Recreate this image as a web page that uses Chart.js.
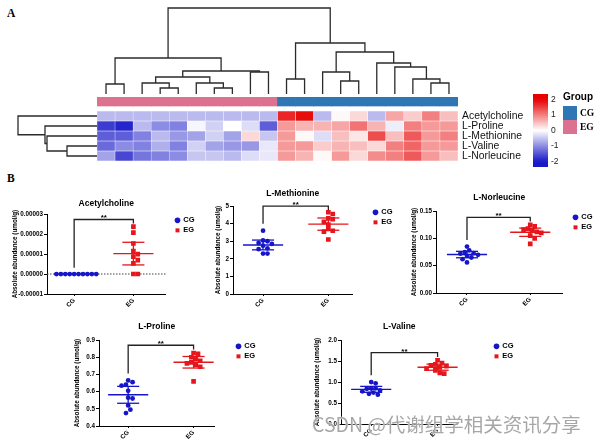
<!DOCTYPE html>
<html>
<head>
<meta charset="utf-8">
<title>Heatmap and metabolite abundance</title>
<script src="https://cdn.jsdelivr.net/npm/chart.js@4.4.1/dist/chart.umd.min.js"></script>
<style>
  html, body { margin:0; padding:0; background:#fff; }
  #root { position:relative; width:600px; height:444px; overflow:hidden; background:#fff; }
  #root canvas { position:absolute; }
  .txt { position:absolute; white-space:nowrap; color:#000; }
</style>
</head>
<body>
<div id="root"></div>
<script>
// ================= DATA =================
// ---- Panel A : heatmap (z-scores) ----
const sampleGroups = ['EG','EG','EG','EG','EG','EG','EG','EG','EG','EG',
                      'CG','CG','CG','CG','CG','CG','CG','CG','CG','CG'];
const heatRowLabels = ['Acetylcholine','L-Proline','L-Methionine','L-Valine','L-Norleucine'];
const heatAcetylcholine = [-0.6,-0.6,-0.6,-0.6,-0.6,-0.6,-0.6,-0.6,-0.6,-0.6, 1.7,1.9,-0.6,0.05,0.3,-0.6,0.7,0.4,1.0,0.5];
const heatProline       = [-1.7,-1.9,-0.6,-1.0,-1.1,-0.08,-0.4,0.0,-0.3,-1.4, 0.8,0.6,0.6,0.7,1.1,0.6,-0.15,1.0,0.8,0.8];
const heatMethionine    = [-1.4,-1.4,-1.1,-0.6,-0.9,-0.8,-0.4,-0.8,0.3,-0.5, 0.8,0.05,-0.3,0.5,0.2,1.4,0.5,1.3,0.8,1.0];
const heatValine        = [-1.3,-1.0,-1.1,-0.7,-1.1,-0.4,-0.8,-0.9,-0.9,-0.2, 0.8,0.8,0.4,0.6,0.5,0.3,1.0,1.2,0.8,0.8];
const heatNorleucine    = [-0.8,-1.6,-1.2,-1.1,-1.0,-0.5,-0.5,-0.6,-0.3,-0.2, 0.8,0.6,0.05,0.8,0.3,0.9,1.0,1.3,0.8,0.5];
// hierarchical clustering merges: [clusterA, clusterB, height]; ids >= n refer to earlier merges
const sampleLinkage = [
  [0,1,10],[3,4,6],[2,21,11],[6,7,6],[5,23,11],[22,24,17],[8,9,22],[25,26,23],[20,27,36],
  [10,11,15],[13,14,13],[12,30,22],[18,19,11],[17,32,15],[16,33,27],[15,34,31],[31,35,42],[29,36,51],
  [28,37,86]
];
const metaboliteLinkage = [[3,4,30],[2,5,50],[1,6,52],[0,7,79]];
const colorbarTicks = [-2,-1,0,1,2];
const legendGroups = ['CG','EG'];

// ---- Panel B : absolute abundance (umol/g) ----
const groupLabels = ['CG','EG'];
const acetylcholineCG = [0,0,0,0,0,0,0,0,0,0];
const acetylcholineEG = [0.0000237,0.0000207,0.0000153,0.0000115,0.0000100,0.0000087,0.0000070,0.0000053,0,0];
const methionineCG = [3.6,3.05,3.0,2.9,2.85,2.75,2.6,2.55,2.3,2.3];
const methionineEG = [4.65,4.55,4.3,4.25,4.1,3.95,3.7,3.6,3.55,3.1];
const norleucineCG = [0.085,0.078,0.075,0.073,0.072,0.070,0.068,0.065,0.062,0.056];
const norleucineEG = [0.125,0.122,0.118,0.116,0.115,0.112,0.110,0.105,0.100,0.090];
const prolineCG = [0.665,0.655,0.64,0.635,0.605,0.565,0.56,0.52,0.495,0.475];
const prolineEG = [0.825,0.82,0.80,0.79,0.78,0.77,0.765,0.755,0.745,0.66];
const valineCG = [1.0,0.97,0.85,0.84,0.85,0.8,0.78,0.75,0.72,0.7];
const valineEG = [1.52,1.45,1.42,1.40,1.38,1.35,1.32,1.28,1.22,1.20];
const acetylcholineTicks = [-0.00001,0,0.00001,0.00002,0.00003];
const methionineTicks = [0,1,2,3,4,5];
const norleucineTicks = [0,0.05,0.10,0.15];
const prolineTicks = [0.4,0.5,0.6,0.7,0.8,0.9];
const valineTicks = [0,0.5,1.0,1.5,2.0];

// ================= STYLE / LAYOUT =================
const FONT = '"Liberation Sans", Arial, Helvetica, sans-serif';
Chart.defaults.font.family = FONT;
Chart.defaults.color = '#000';
Chart.defaults.animation = false;
Chart.defaults.responsive = false;
Chart.defaults.events = [];
Chart.defaults.plugins.tooltip.enabled = false;
Chart.defaults.plugins.legend.display = false;

const CG_COLOR = '#1616c8', EG_COLOR = '#e6161c';
const CG_BAR = '#2e76b4', EG_BAR = '#dc7290';
const DENDRO = '#2b2b2b';
const T975_DF9 = 2.262;          // 95% CI multiplier (n = 10)
const MEAN_HALF_PX = 20, WHISK_HALF_PX = 11;
const LEG_W = 30, LEG_PAD = 2.5, LEG_BOX = 4, XAXIS_H = 22;

const root = document.getElementById('root');
function makeCanvas(left, top, w, h) {
  const c = document.createElement('canvas');
  w = Math.round(w); h = Math.round(h);
  c.width = w; c.height = h;
  c.style.left = Math.round(left) + 'px'; c.style.top = Math.round(top) + 'px';
  c.style.width = w + 'px'; c.style.height = h + 'px';
  root.appendChild(c);
  return c;
}
function addText(txt, left, top, font, color, extra) {
  const d = document.createElement('div');
  d.className = 'txt'; d.textContent = txt;
  d.style.left = left + 'px'; d.style.top = top + 'px'; d.style.font = font;
  if (color) d.style.color = color;
  if (extra) Object.assign(d.style, extra);
  root.appendChild(d);
  return d;
}
function heatColor(v) {
  const t = Math.max(-1, Math.min(1, v / 2));
  if (t >= 0) {
    return `rgb(${Math.round(255 - 25 * t)},${Math.round(255 * (1 - t))},${Math.round(255 * (1 - t))})`;
  }
  const s = -t;
  return `rgb(${Math.round(255 - 230 * s)},${Math.round(255 - 230 * s)},${Math.round(255 - 55 * s)})`;
}
function dendroSegments(linkage, n) {
  const pos = [], h = [];
  for (let i = 0; i < n; i++) { pos[i] = i + 0.5; h[i] = 0; }
  const segs = [];
  linkage.forEach(([a, b, ht], k) => {
    segs.push([[pos[a], h[a]], [pos[a], ht], [pos[b], ht], [pos[b], h[b]]]);
    pos[n + k] = (pos[a] + pos[b]) / 2; h[n + k] = ht;
  });
  return segs;
}
function lineDs(points, color, width, dash) {
  return { label: '', data: points, showLine: true, borderColor: color, borderWidth: width,
           borderDash: dash || [], pointRadius: 0, pointHoverRadius: 0, fill: false, clip: false,
           xAxisID: 'x', yAxisID: 'y' };
}
function noEdgePadding(s) { s.paddingTop = 0; s.paddingBottom = 0; }

// ================= PANEL A =================
// top dendrogram (samples)
new Chart(makeCanvas(97, 0, 361, 96), {
  type: 'scatter',
  data: { datasets: dendroSegments(sampleLinkage, sampleGroups.length).map(seg =>
    lineDs(seg.map(([p, hh]) => ({ x: p, y: hh })), DENDRO, 1.3)) },
  options: { layout: { padding: 0 },
    scales: { x: { display: false, min: 0, max: sampleGroups.length },
              y: { display: false, min: -2, max: 94 } } }
});
// left dendrogram (metabolites)
new Chart(makeCanvas(0, 111, 97, 50), {
  type: 'scatter',
  data: { datasets: dendroSegments(metaboliteLinkage, heatRowLabels.length).map(seg =>
    lineDs(seg.map(([p, hh]) => ({ x: hh, y: p })), DENDRO, 1.3)) },
  options: { layout: { padding: 0 },
    scales: { x: { display: false, reverse: true, min: 0, max: 97 },
              y: { display: false, reverse: true, min: 0, max: heatRowLabels.length } } }
});
// heatmap + group bar
(function () {
  const rows = [heatAcetylcholine, heatProline, heatMethionine, heatValine, heatNorleucine];
  const datasets = [{
    data: sampleGroups.map(() => [-1.4, -0.5]),
    backgroundColor: sampleGroups.map(g => g === 'CG' ? CG_BAR : EG_BAR),
    grouped: false, barPercentage: 1, categoryPercentage: 1, borderWidth: 0
  }];
  rows.forEach((vals, r) => datasets.push({
    data: vals.map(() => [r, r + 1]),
    backgroundColor: vals.map(heatColor),
    grouped: false, barPercentage: 1, categoryPercentage: 1,
    borderWidth: 0.5, borderColor: 'rgba(255,255,255,0.55)', borderSkipped: false
  }));
  new Chart(makeCanvas(97, 97, 361 + 72, 64), {
    type: 'bar',
    data: { labels: sampleGroups.map((g, i) => g + (i + 1)), datasets },
    options: { layout: { padding: 0 },
      scales: {
        x: { display: false },
        y: { position: 'right', reverse: true, min: -1.4, max: heatRowLabels.length,
             afterBuildTicks: s => { s.ticks = heatRowLabels.map((_, i) => ({ value: i + 0.5 })); },
             ticks: { callback: (v, i) => heatRowLabels[i], font: { size: 10.4 }, padding: 4, autoSkip: false, color: '#111' },
             grid: { display: false, drawTicks: false }, border: { display: false },
             afterFit: s => { s.width = 72; noEdgePadding(s); } }
      } }
  });
})();
// colour bar
new Chart(makeCanvas(533, 94, 40, 73), {
  type: 'bar',
  data: { labels: [''], datasets: [{
    data: [[-2.35, 2.35]], barPercentage: 1, categoryPercentage: 1, borderWidth: 0,
    backgroundColor: (c) => {
      const ch = c.chart; if (!ch.chartArea) return '#fff';
      const y = ch.scales.y;
      const g = ch.ctx.createLinearGradient(0, y.getPixelForValue(-2.35), 0, y.getPixelForValue(2.35));
      for (let k = 0; k <= 20; k++) g.addColorStop(k / 20, heatColor(-2.35 + 4.7 * k / 20));
      return g;
    } }] },
  options: { layout: { padding: 0 },
    scales: { x: { display: false },
      y: { position: 'right', min: -2.35, max: 2.35,
           afterBuildTicks: s => { s.ticks = colorbarTicks.map(v => ({ value: v })); },
           ticks: { font: { size: 8.5 }, padding: 3, color: '#222', callback: v => String(v) },
           grid: { display: false, drawTicks: false }, border: { display: false },
           afterFit: s => { s.width = 25; noEdgePadding(s); } } } }
});
// group legend + panel letters
addText('Group', 563, 92, 'bold 10px/10px ' + FONT);
legendGroups.forEach((g, i) => {
  const sq = document.createElement('div');
  Object.assign(sq.style, { position: 'absolute', left: '563px', top: (106 + 14 * i) + 'px', width: '14px', height: '14px',
    background: g === 'CG' ? CG_BAR : EG_BAR });
  root.appendChild(sq);
  addText(g, 580, 108 + 14 * i, 'bold 9.5px/10px "Liberation Serif", serif');
});
addText('A', 7, 8, 'bold 11.5px/11.5px "Liberation Serif", serif');
addText('B', 7, 173, 'bold 11.5px/11.5px "Liberation Serif", serif');

// ================= PANEL B =================
const panelLayout = [
  { l: 47,  t: 214, r: 165, b: 294, titleY: 204, yw: 36, marker: 177, xMin: 0.542, xMax: 2.542 },
  { l: 233, t: 206, r: 352, b: 294, titleY: 194, yw: 19, marker: 375, xMin: 0.54,  xMax: 2.37 },
  { l: 436, t: 211, r: 562, b: 293, titleY: 198, yw: 26, marker: 575, xMin: 0.51,  xMax: 2.51 },
  { l: 99,  t: 340, r: 214, b: 426, titleY: 327, yw: 26, marker: 238, xMin: 0.554, xMax: 2.32 },
  { l: 341, t: 340, r: 457, b: 424, titleY: 327, yw: 28, marker: 496, xMin: 0.545, xMax: 2.30 }
];
const panels = [
  { title: 'Acetylcholine', cg: acetylcholineCG, eg: acetylcholineEG, ticks: acetylcholineTicks,
    fmt: v => (Math.abs(v) < 1e-12 ? 0 : v).toFixed(5), zeroLine: true },
  { title: 'L-Methionine', cg: methionineCG, eg: methionineEG, ticks: methionineTicks, fmt: v => String(Math.round(v)) },
  { title: 'L-Norleucine', cg: norleucineCG, eg: norleucineEG, ticks: norleucineTicks, fmt: v => v.toFixed(2) },
  { title: 'L-Proline', cg: prolineCG, eg: prolineEG, ticks: prolineTicks, fmt: v => v.toFixed(1) },
  { title: 'L-Valine', cg: valineCG, eg: valineEG, ticks: valineTicks, fmt: v => v.toFixed(1) }
];

function swarm(vals, center, pxX, pxY, d) {
  const order = vals.map((v, i) => i).sort((a, b) => vals[b] - vals[a]);
  const placed = [], xs = new Array(vals.length);
  for (const i of order) {
    const py = vals[i] * pxY;
    let off = 0;
    for (let k = 0; k < 400; k++) {
      const cand = k === 0 ? 0 : (k % 2 ? 1 : -1) * Math.ceil(k / 2) * d * 0.5;
      if (placed.every(p => Math.hypot(p.x - cand, p.y - py) >= d - 1e-9)) { off = cand; break; }
    }
    placed.push({ x: off, y: py });
    xs[i] = center + off / pxX;
  }
  return xs;
}
function stats(vals) {
  const n = vals.length, m = vals.reduce((a, b) => a + b, 0) / n;
  const sd = Math.sqrt(vals.reduce((a, b) => a + (b - m) * (b - m), 0) / (n - 1));
  return { m, e: T975_DF9 * sd / Math.sqrt(n) };
}
const starsPlugin = {
  id: 'stars',
  afterDatasetsDraw(chart, args, o) {
    const { ctx, scales } = chart;
    ctx.save();
    ctx.font = 'bold 8px ' + FONT; ctx.fillStyle = '#000';
    ctx.textAlign = 'center'; ctx.textBaseline = 'alphabetic';
    ctx.fillText(o.text, scales.x.getPixelForValue(o.x), scales.y.getPixelForValue(o.y) + 1);
    ctx.restore();
  }
};
const fixedLegendPlugin = {
  id: 'fixedLegend',
  afterInit(chart) {
    const lg = chart.legend; if (!lg) return;
    const orig = lg.fit;
    lg.fit = function () { orig.call(this); this.width = LEG_W; };
  }
};

panels.forEach((p, idx) => {
  const L = panelLayout[idx];
  const yMin = p.ticks[0], yMax = p.ticks[p.ticks.length - 1], range = yMax - yMin;
  const areaW = L.r - L.l, areaH = L.b - L.t;
  const pxX = areaW / (L.xMax - L.xMin), pxY = areaH / range;
  const cgX = swarm(p.cg, 1, pxX, pxY, 4.4), egX = swarm(p.eg, 2, pxX, pxY, 4.4);
  const mh = MEAN_HALF_PX / pxX, wh = WHISK_HALF_PX / pxX;
  const datasets = [
    { label: 'CG', data: p.cg.map((v, i) => ({ x: cgX[i], y: v })), pointStyle: 'circle', pointRadius: 2.4,
      backgroundColor: CG_COLOR, borderColor: CG_COLOR, borderWidth: 0, xAxisID: 'x', yAxisID: 'y' },
    { label: 'EG', data: p.eg.map((v, i) => ({ x: egX[i], y: v })), pointStyle: 'rect', pointRadius: 3.3,
      backgroundColor: EG_COLOR, borderColor: EG_COLOR, borderWidth: 0, xAxisID: 'x', yAxisID: 'y' }
  ];
  [[p.cg, 1, CG_COLOR], [p.eg, 2, EG_COLOR]].forEach(([vals, c, col]) => {
    const { m, e } = stats(vals);
    datasets.push(lineDs([{ x: c - mh, y: m }, { x: c + mh, y: m }], col, 1.4));
    if (e > 0) {
      datasets.push(lineDs([{ x: c - wh, y: m + e }, { x: c + wh, y: m + e }], col, 1.3));
      datasets.push(lineDs([{ x: c - wh, y: m - e }, { x: c + wh, y: m - e }], col, 1.3));
      datasets.push(lineDs([{ x: c, y: m - e }, { x: c, y: m + e }], col, 1.3));
    }
  });
  const maxAll = Math.max(...p.cg, ...p.eg);
  const top = Math.min(maxAll + 0.09 * range, yMax);
  const leftB = Math.max(...p.cg) + 0.08 * range;
  const rightB = top - 0.05 * range;
  datasets.push(lineDs([{ x: 1, y: leftB }, { x: 1, y: top }, { x: 2, y: top }, { x: 2, y: rightB }], '#222', 1.3));
  if (p.zeroLine) datasets.push(lineDs([{ x: L.xMin, y: 0 }, { x: L.xMax, y: 0 }], '#444', 1, [1.5, 1.5]));

  const tb = L.t - L.titleY - 5.1;
  const gap = L.marker - L.r - LEG_PAD - LEG_BOX / 2;
  const cLeft = L.l - L.yw, cTop = L.titleY - 5.1;
  const cW = L.yw + areaW + gap + LEG_W, cH = 10.2 + tb + areaH + XAXIS_H;
  const tickFont = { size: 6.3, weight: 'bold' };
  const axisGrid = { display: true, drawOnChartArea: false, drawTicks: true, tickLength: 3, color: '#000', lineWidth: 1 };

  new Chart(makeCanvas(cLeft, cTop, cW, cH), {
    type: 'scatter',
    data: { datasets },
    plugins: [starsPlugin, fixedLegendPlugin],
    options: {
      layout: { padding: 0 },
      plugins: {
        title: { display: true, text: p.title, fullSize: false, color: '#000',
                 font: { size: 8.5, weight: 'bold' }, padding: { top: 0, bottom: tb } },
        legend: { display: true, position: 'right', align: 'start', fullSize: false,
                  labels: { usePointStyle: true, boxWidth: LEG_BOX, boxHeight: LEG_BOX, padding: LEG_PAD,
                            color: '#000', font: { size: 7.5, weight: 'bold' },
                            filter: item => item.datasetIndex < 2 } },
        stars: { text: '**', x: 1.5, y: top }
      },
      scales: {
        x: { type: 'linear', min: L.xMin, max: L.xMax,
             afterBuildTicks: s => { s.ticks = groupLabels.map((_, i) => ({ value: i + 1 })); },
             ticks: { callback: (v, i) => groupLabels[i], minRotation: 45, maxRotation: 45, autoSkip: false,
                      font: tickFont, color: '#000', padding: 1 },
             grid: Object.assign({}, axisGrid, { tickLength: 2 }), border: { display: true, color: '#000', width: 1 },
             afterFit: s => { s.height = XAXIS_H; } },
        y: { type: 'linear', min: yMin, max: yMax,
             afterBuildTicks: s => { s.ticks = p.ticks.map(v => ({ value: v })); },
             ticks: { callback: v => p.fmt(v), font: tickFont, color: '#000', padding: 1, autoSkip: false },
             grid: axisGrid, border: { display: true, color: '#000', width: 1 },
             title: { display: true, text: 'Absolute abundance (umol/g)', color: '#000',
                      font: { size: 6.3, weight: 'bold' }, padding: 0 },
             afterFit: s => { s.width = L.yw; } },
        gap: { type: 'linear', position: 'right', display: true,
               ticks: { display: false }, grid: { display: false, drawTicks: false }, border: { display: false },
               afterFit: s => { s.width = gap; } }
      }
    }
  });
});

// watermark text present in the reference image
addText('CSDN @代谢组学相关资讯分享', 312, 414, '19.5px/20px "Noto Sans CJK SC", sans-serif', 'rgba(150,150,150,0.85)',
        { textShadow: '0 0 2px #fff, 0 0 1px #fff', zIndex: 5 });
</script>
</body>
</html>
